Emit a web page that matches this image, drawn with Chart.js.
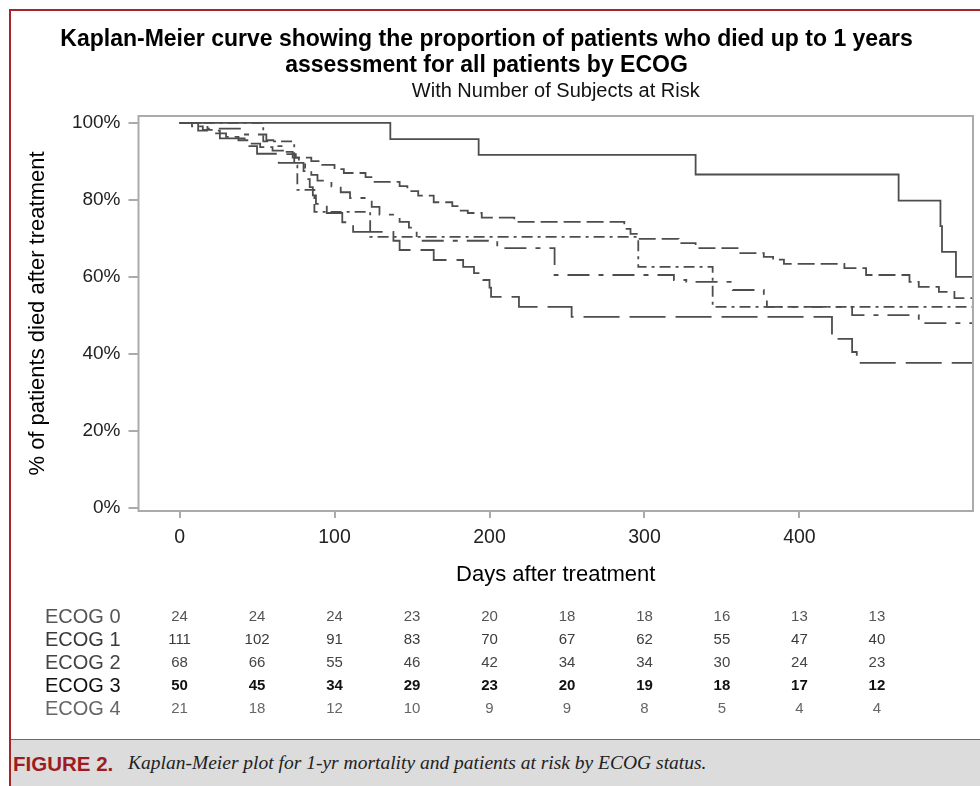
<!DOCTYPE html>
<html>
<head>
<meta charset="utf-8">
<script src="https://cdn.jsdelivr.net/npm/chart.js@4.4.1/dist/chart.umd.min.js"></script>
<style>
    body { margin: 0; background: #fff; width: 980px; height: 786px; overflow: hidden; position: relative; }
    #canvas { position: absolute; left: 0; top: 0; }
    .frame { position: absolute; left: 9px; top: 9px; right: 0; bottom: 0; border-left: 2px solid #a4262b; border-top: 2px solid #a4262b; pointer-events: none; }
    .caption { position: absolute; left: 11px; right: 0; top: 739px; bottom: 0; background: #dcdcdc; border-top: 1px solid #b04a4d; }
    .caption .fig { position: absolute; left: 2px; top: 12px; font: bold 20.5px 'Liberation Sans', Arial, sans-serif; color: #9e1c21; }
    .caption .txt { position: absolute; left: 117px; top: 12px; font: italic 19.5px 'Liberation Serif', 'Times New Roman', serif; color: #222; }
</style>
</head>
<body>
<canvas id="canvas" width="980" height="739"></canvas>
<div class="frame"></div>
<div class="caption"><span class="fig">FIGURE 2.</span><span class="txt">Kaplan-Meier plot for 1-yr mortality and patients at risk by ECOG status.</span></div>
<script>
// step curves: day of each drop, % after the drop
const ecog0Days = [0, 136, 193, 333, 464, 491, 492, 501, 512];
const ecog0Pct = [100, 95.8, 91.7, 86.6, 79.8, 73.2, 66.5, 60.0, 60.0];

const ecog1Days = [0, 8, 15, 22, 30, 38, 45, 52, 60, 68, 75, 85, 92, 100, 106, 120, 125, 142, 147, 154, 164, 176, 180, 186, 195, 216, 287, 291, 296, 322, 333, 361, 377, 383, 390, 429, 443, 471, 477, 490, 500, 512];
const ecog1Pct = [100, 99.1, 98.2, 97.3, 96.4, 95.5, 94.6, 93.7, 92.8, 91.9, 91.0, 90.1, 89.1, 88.0, 87.0, 85.9, 84.7, 83.6, 82.3, 81.1, 79.4, 78.4, 77.2, 76.6, 75.4, 74.3, 72.5, 71.2, 69.9, 68.8, 67.5, 66.2, 65.2, 64.5, 63.4, 62.3, 60.5, 58.7, 57.4, 56.1, 54.5, 54.5];

const ecog2Days = [0, 18, 40, 56, 62, 68, 73, 77, 81, 85, 89, 98, 104, 110, 124, 129, 142, 148, 153, 156, 205, 242, 319, 327, 357, 377, 379, 434, 477, 512];
const ecog2Pct = [100, 98.5, 97.0, 95.5, 94.0, 92.5, 91.0, 89.5, 88.0, 86.5, 85.0, 83.5, 82.0, 80.5, 78.2, 76.2, 74.3, 72.8, 70.6, 69.4, 67.5, 60.5, 59.2, 58.7, 56.6, 54.5, 52.2, 50.1, 48.0, 48.0];

const ecog3Days = [0, 12, 26, 42, 50, 64, 80, 82, 84, 86, 88, 95, 105, 112, 138, 142, 164, 183, 190, 196, 200, 201, 219, 253, 421, 434, 437, 512];
const ecog3Pct = [100, 98, 96, 94, 92, 89.6, 87.5, 85.4, 83.3, 81.2, 79.0, 76.6, 74.2, 71.7, 69.4, 67.0, 64.4, 62.6, 61.0, 59.2, 57.2, 54.8, 52.2, 49.6, 43.9, 40.5, 37.7, 37.7];

const ecog4Days = [0, 54, 74, 76, 87, 123, 296, 344, 512];
const ecog4Pct = [100, 95.2, 89.0, 82.6, 76.9, 70.4, 62.6, 52.2, 52.2];

// number at risk table
const riskDays = [0, 50, 100, 150, 200, 250, 300, 350, 400, 450];
const riskLabels = ['ECOG 0', 'ECOG 1', 'ECOG 2', 'ECOG 3', 'ECOG 4'];
const riskEcog0 = [24, 24, 24, 23, 20, 18, 18, 16, 13, 13];
const riskEcog1 = [111, 102, 91, 83, 70, 67, 62, 55, 47, 40];
const riskEcog2 = [68, 66, 55, 46, 42, 34, 34, 30, 24, 23];
const riskEcog3 = [50, 45, 34, 29, 23, 20, 19, 18, 17, 12];
const riskEcog4 = [21, 18, 12, 10, 9, 9, 8, 5, 4, 4];

const xTicks = [0, 100, 200, 300, 400];
const yTicks = [0, 20, 40, 60, 80, 100];

const FONT = "'Liberation Sans', Arial, sans-serif";

function toPoints(days, pct) {
    return days.map((d, i) => ({ x: d, y: pct[i] }));
}

function curve(label, days, pct, dash) {
    return {
        label: label,
        data: toPoints(days, pct),
        stepped: true,
        borderColor: '#4d4d4d',
        borderWidth: 1.8,
        borderDash: dash,
        borderCapStyle: 'butt',
        pointRadius: 0,
        fill: false,
    };
}

const boxPlugin = {
    id: 'box',
    afterDraw(chart) {
        const { ctx, chartArea } = chart;
        ctx.save();
        ctx.strokeStyle = '#ababab';
        ctx.lineWidth = 2;
        ctx.strokeRect(chartArea.left, chartArea.top, chartArea.right - chartArea.left, chartArea.bottom - chartArea.top);
        ctx.restore();
    },
};

const riskPlugin = {
    id: 'risk',
    afterDraw(chart) {
        const ctx = chart.ctx;
        const x = chart.scales.x;
        const rows = [riskEcog0, riskEcog1, riskEcog2, riskEcog3, riskEcog4];
        const colors = ['#555', '#3a3a3a', '#444', '#111', '#666'];
        const rowY = [617, 640, 663, 686, 709];
        ctx.save();
        ctx.textBaseline = 'middle';
        rows.forEach((row, r) => {
            ctx.fillStyle = colors[r];
            ctx.textAlign = 'left';
            ctx.font = '20px ' + FONT;
            ctx.fillText(riskLabels[r], 45, rowY[r]);
            ctx.textAlign = 'center';
            ctx.font = (r === 3 ? 'bold ' : '') + '15px ' + FONT;
            row.forEach((n, i) => {
                ctx.fillText(String(n), x.getPixelForValue(riskDays[i]), rowY[r]);
            });
        });
        ctx.restore();
    },
};

new Chart('canvas', {
    type: 'line',
    data: {
        datasets: [
            curve('ECOG 0', ecog0Days, ecog0Pct, []),
            curve('ECOG 1', ecog1Days, ecog1Pct, [17, 6]),
            curve('ECOG 2', ecog2Days, ecog2Pct, [22, 9, 5, 9]),
            curve('ECOG 3', ecog3Days, ecog3Pct, [36, 10]),
            curve('ECOG 4', ecog4Days, ecog4Pct, [11, 5, 3, 5]),
        ],
    },
    options: {
        responsive: false,
        devicePixelRatio: 1,
        animation: false,
        layout: { padding: { left: 0, right: 7, top: 0, bottom: 0 } },
        plugins: {
            legend: { display: false },
            tooltip: { enabled: false },
            title: {
                display: true,
                text: ['Kaplan-Meier curve showing the proportion of patients who died up to 1 years', 'assessment for all patients by ECOG'],
                color: '#000',
                font: { family: FONT, size: 23, weight: 'bold', lineHeight: 1.1 },
                padding: { top: 27.4, bottom: 0 },
            },
            subtitle: {
                display: true,
                fullSize: false,
                text: 'With Number of Subjects at Risk',
                color: '#111',
                font: { family: FONT, size: 20, lineHeight: 1.0 },
                padding: { top: 3, bottom: 15 },
            },
        },
        scales: {
            x: {
                type: 'linear',
                min: -26.5,
                max: 512,
                afterFit: (scale) => { scale.height = 228; },
                afterBuildTicks: (scale) => { scale.ticks = xTicks.map((v) => ({ value: v })); },
                grid: { drawOnChartArea: false, drawTicks: true, tickLength: 7, color: '#ababab', lineWidth: 2 },
                border: { display: false },
                ticks: { color: '#222', font: { family: FONT, size: 19.5 }, padding: 8.3, maxRotation: 0 },
                title: {
                    display: true,
                    text: 'Days after treatment',
                    color: '#000',
                    font: { family: FONT, size: 22, lineHeight: 1.2 },
                    padding: { top: 0, bottom: 150.8 },
                },
            },
            y: {
                min: -0.8,
                max: 101.8,
                afterFit: (scale) => { scale.width = 138.5; },
                afterBuildTicks: (scale) => { scale.ticks = yTicks.map((v) => ({ value: v })); },
                grid: { drawOnChartArea: false, drawTicks: true, tickLength: 10, color: '#ababab', lineWidth: 2 },
                border: { display: false },
                ticks: { color: '#222', font: { family: FONT, size: 19 }, padding: 8, callback: (v) => v + '%' },
                title: {
                    display: true,
                    text: '% of patients died after treatment',
                    color: '#000',
                    font: { family: FONT, size: 22, lineHeight: 1.2 },
                    padding: { top: 24.8, bottom: 0 },
                },
            },
        },
    },
    plugins: [boxPlugin, riskPlugin],
});
</script>
</body>
</html>
